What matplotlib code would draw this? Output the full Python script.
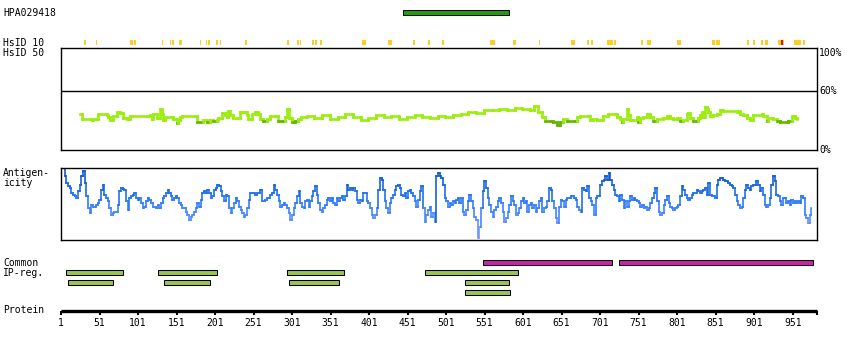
import numpy as np
import matplotlib
matplotlib.use("Agg")
import matplotlib.pyplot as plt
from matplotlib.collections import LineCollection
from matplotlib.colors import LinearSegmentedColormap, Normalize

# ---------------------------------------------------------------- data
protein_length = 982
ruler_ticks = [1, 51, 101, 151, 201, 251, 301, 351, 401, 451, 501, 551,
               601, 651, 701, 751, 801, 851, 901, 951]

antigen_name = "HPA029418"
antigen_span = (445, 583)

# HsID 10 hits (residue start, residue end)
hsid10_spans = [(16, 17), (31, 33), (46, 48), (91, 94), (96, 99), (132, 133),
                (142, 144), (145, 148), (154, 158), (181, 183), (189, 191),
                (192, 194), (202, 205), (207, 209), (240, 242), (251, 252),
                (295, 297), (308, 310), (311, 312), (327, 329), (331, 334),
                (337, 340), (392, 397), (426, 431), (458, 460), (477, 480),
                (496, 498), (558, 564), (588, 592), (622, 623), (663, 668),
                (684, 686), (689, 692), (710, 718), (719, 721), (754, 757),
                (762, 767), (801, 806), (846, 850), (852, 857), (892, 894),
                (899, 902), (910, 912), (915, 919), (932, 936), (938, 940),
                (953, 962), (964, 967)]
hsid10_high = [(936, 938)]

# HsID 50 identity profile (residue, % identity)
hsid50_residue = [25.7, 27.8, 40.8, 41.7, 43.0, 47.3, 49.5, 60.3, 62.5, 64.6,
                  69.0, 73.3, 77.6, 81.9, 86.3, 90.6, 114.4, 116.6, 118.7, 120.9,
                  125.2, 129.5, 131.7, 133.9, 136.0, 144.7, 146.9, 151.2, 153.4, 155.5,
                  157.7, 175.0, 177.2, 183.6, 185.8, 190.1, 194.5, 198.8, 203.1, 205.3,
                  209.6, 214.0, 216.1, 218.3, 220.4, 224.8, 229.1, 233.4, 237.7, 242.1,
                  244.2, 248.6, 252.9, 257.2, 259.4, 263.7, 268.0, 272.4, 278.9, 283.2,
                  287.5, 291.8, 294.9, 297.5, 300.5, 304.8, 309.2,
                  312, 320, 330, 340, 350, 360, 370, 380, 390, 400,
                  410, 420, 430, 440, 450, 460, 470, 480, 490, 500,
                  510, 520, 530, 540, 550, 560, 570, 580, 590, 600,
                  610, 615, 620, 625, 630,
                  635.9, 640.2, 644.6, 648.9, 653.2, 657.5, 668.4, 670.5, 674.9, 685.7,
                  687.8, 692.2, 696.5, 700.8, 705.2, 711.6, 720.3, 722.5, 726.8, 729.0,
                  731.1, 735.4, 737.6, 739.8, 744.1, 748.4, 750.6, 752.8, 757.1, 761.4,
                  765.7, 770.1, 774.4, 783.1, 787.4, 791.7, 796.0, 800.4, 804.7, 809.0,
                  813.3, 815.5, 817.7, 822.0, 826.3, 828.5, 830.7, 832.8, 835.0, 837.2,
                  839.3, 841.5, 843.6, 848.0, 852.3, 856.6, 861.0, 878.3, 880.4, 882.6,
                  886.9, 891.3, 895.6, 899.9, 910.7, 912.9, 917.2, 919.4, 923.7, 925.9,
                  930.2, 934.5, 945.4, 949.7, 954.0, 956.2]
hsid50_identity = [36, 31.7, 31.7, 30, 31.7, 31.7, 36, 35, 33.3, 30,
                   34, 38.3, 37.3, 32.7, 31.7, 34, 34, 35, 31.7, 36,
                   32.7, 41.7, 36, 30, 33.3, 33.3, 31.7, 27.3, 30, 33.3,
                   34, 34, 28.3, 28.3, 30, 28.3, 30, 29, 30.7, 32.7,
                   37.3, 35, 33.3, 39.3, 35, 32.7, 32.7, 38.3, 38.3, 35,
                   31.7, 36.7, 38.3, 36, 31.7, 29, 31.7, 34, 34, 29,
                   29, 33.3, 41.7, 32.7, 28.3, 29, 31.7,
                   33, 34, 32, 35, 31, 33, 36, 33, 30, 32,
                   35, 33, 34, 31, 33, 35, 33, 32, 34, 33,
                   35, 36, 38, 37, 40, 40, 41, 40, 42, 41,
                   40, 45, 38, 33, 29,
                   29, 28.3, 25, 28.3, 31.7, 29, 29, 33.3, 34, 34,
                   30, 31.7, 30, 30, 34, 36.7, 36.7, 33.3, 31.7, 28.3,
                   31.7, 41.7, 35, 30, 30.7, 33.3, 28.3, 32.7, 33.3, 36,
                   33.3, 29, 31.7, 32.7, 34, 32.7, 31.7, 32.7, 29, 30.7,
                   36, 37.3, 32.7, 29, 29, 32.7, 35, 38.3, 33.3, 43.3,
                   41.7, 38.3, 34, 35, 36, 40, 39.3, 38.3, 39.3, 36,
                   35, 32.7, 30.7, 35, 36.7, 34, 29, 32.7, 32.7, 31.7,
                   29, 28.3, 29, 34, 32.7, 31.7]

# Antigenicity profile, sampled every ~2.16 residues from residue 3.6 to 975
antigenicity_first, antigenicity_last = 3.6, 975.0
antigenicity = [
    215, 190, 170, 160, 155, 140, 135, 130, 125, 145, 165, 190, 205, 170, 130, 95,
    80, 105, 100, 100, 105, 110, 120, 150, 165, 135, 125, 115, 95, 75, 80, 85,
    85, 105, 145, 155, 153, 150, 115, 90, 125, 130, 135, 140, 125, 120, 125, 110,
    95, 100, 115, 125, 120, 110, 100, 100, 95, 105, 95, 110, 125, 130, 140, 150,
    140, 130, 120, 125, 130, 125, 110, 105, 95, 95, 85, 75, 60, 70, 75, 85,
    95, 110, 100, 120, 140, 145, 140, 150, 140, 125, 130, 150, 155, 165, 160, 145,
    130, 115, 135, 130, 95, 80, 95, 110, 125, 115, 100, 90, 80, 70, 75, 95,
    120, 140, 140, 140, 135, 140, 140, 150, 115, 115, 120, 125, 125, 135, 140, 165,
    150, 135, 115, 100, 105, 110, 105, 95, 80, 60, 75, 95, 110, 130, 145, 110,
    100, 95, 115, 120, 100, 115,
    130, 145, 160, 135, 110, 90, 85, 95, 105, 120, 125, 115, 125, 110, 105, 125,
    115, 125, 130, 120, 130, 165, 150, 155, 150, 155, 145, 120, 110, 120, 115, 140,
    140, 115, 110, 95, 75, 65, 75, 95, 150, 185, 180, 150, 115, 95, 80, 110,
    125, 135, 150, 160, 165, 155, 135, 130, 140, 125, 145, 150, 140, 130, 115, 100,
    120, 145, 160, 95, 55, 75, 90, 100, 70, 80, 55, 190, 200, 190, 185, 165,
    125, 115, 100, 110, 105, 115, 110, 120, 125, 110, 125, 85, 75, 90, 115, 135,
    115, 95, 70, 60, 5, 40, 95, 145, 175, 155, 125, 105, 85, 70, 90, 100,
    115, 125, 110, 85, 55, 65, 85, 105, 130, 115, 105, 75, 80, 95, 115, 125,
    110, 115, 85, 105, 110, 95, 105, 85, 95, 115, 125, 85, 95, 100, 115, 155,
    150, 115, 95, 65, 50, 100, 120, 115,
    100, 120, 125, 125, 130, 130, 125, 120, 100, 90, 85, 155, 150, 145, 160, 125,
    115, 105, 75, 125, 130, 130, 165, 175, 180, 190, 180, 200, 180, 165, 150, 135,
    130, 115, 135, 120, 95, 115, 100, 115, 130, 120, 125, 120, 115, 110, 100, 105,
    95, 100, 90, 95, 110, 125, 140, 155, 115, 85, 75, 80, 105, 120, 130, 110,
    100, 95, 90, 95, 100, 105, 130, 160, 150, 135, 125, 120, 125, 135, 140, 140,
    150, 145, 140, 145, 150, 155, 135, 170, 135, 130, 130, 125, 165, 180, 185, 185,
    180, 175, 175, 170, 165, 160, 155, 135, 115, 105, 95, 100, 125, 150, 165, 155,
    150, 160, 165, 165, 175, 165, 145, 155, 135, 105, 100, 105, 125, 165, 190, 175,
    135, 130, 115, 105, 125, 125, 110, 115, 105, 120, 110, 115, 110, 115, 110, 130,
    125, 75, 65, 50, 75, 95]

# Common IP regions (residue start, residue end) per row
ip_rows = [
    [(549, 717), (726, 978)],
    [(7, 81), (127, 203), (295, 369), (473, 595)],
    [(10, 68), (135, 195), (297, 362), (525, 583)],
    [(526, 584)],
]
ip_row_colors = ["#cc22aa", "#99c455", "#99c455", "#99c455"]

# ---------------------------------------------------------------- layout
W, H = 850, 350
X0_PX = 61.0
PX_PER_RES = 0.7702
X1_PX = X0_PX + (protein_length - 1) * PX_PER_RES

FONT = {"family": "DejaVu Sans Mono", "size": 7}

fig = plt.figure(figsize=(W / 100, H / 100), dpi=100)
fig.patch.set_facecolor("white")


def track_axes(top, bottom):
    ax = fig.add_axes([X0_PX / W, 1 - bottom / H, (X1_PX - X0_PX) / W, (bottom - top) / H])
    ax.set_xlim(1, protein_length)
    ax.set_xticks([])
    ax.set_yticks([])
    ax.patch.set_alpha(0)
    return ax


def hide_spines(ax):
    for s in ax.spines.values():
        s.set_visible(False)


def label(x_px, y_px, text, **kw):
    fig.text(x_px / W, 1 - y_px / H, text, va="center", ha=kw.pop("ha", "left"),
             fontdict=FONT, color="black", **kw)


def step_segments(x, y):
    """Horizontal-then-vertical segments of a step trace, with the level each belongs to."""
    segs, levels = [], []
    for i in range(len(x) - 1):
        segs.append([(x[i], y[i]), (x[i + 1], y[i])])
        levels.append(y[i])
        segs.append([(x[i + 1], y[i]), (x[i + 1], y[i + 1])])
        levels.append(max(y[i], y[i + 1]))
    return segs, np.asarray(levels)


edge_lw = 0.75

# antigen bar
ax_ab = track_axes(7.5, 17.5)
hide_spines(ax_ab)
ax_ab.set_ylim(-0.5, 0.5)
ax_ab.barh(0, antigen_span[1] - antigen_span[0], left=antigen_span[0], height=0.44,
           color="#1d9e0c", edgecolor="black", linewidth=edge_lw)
label(3, 13, antigen_name)

# HsID 10 track
ax_h10 = track_axes(37.5, 47.5)
hide_spines(ax_h10)
ax_h10.set_ylim(-0.5, 0.5)
for s, e in hsid10_spans:
    ax_h10.barh(0, max(e - s, 1.0), left=s, height=0.52, color="#ffcc22", linewidth=0)
for s, e in hsid10_high:
    ax_h10.barh(0, max(e - s, 1.0), left=s, height=0.52, color="#dd1100", linewidth=0)
label(3, 42.5, "HsID 10")
label(3, 52.5, "HsID 50")

# HsID 50 panel
ax_h50 = track_axes(48, 150)
ax_h50.set_ylim(0, 103.2)
for s in ax_h50.spines.values():
    s.set_linewidth(1.0)
ax_h50.axhline(60, color="black", linewidth=1.0)
h_segs, h_lev = step_segments(np.asarray(hsid50_residue), np.asarray(hsid50_identity))
light, dark = "#9bee0e", "#62b800"
h_cols = [dark if v < 30 else light for v in h_lev]
ax_h50.add_collection(LineCollection(h_segs, colors=h_cols, linewidths=1.9,
                                     capstyle="projecting"))
label(819, 52.5, "100%")
label(819, 90.7, "60%")
label(819, 150, "0%")

# Antigenicity panel
ax_ag = track_axes(168, 240)
ax_ag.set_ylim(0, 215)
for s in ax_ag.spines.values():
    s.set_linewidth(1.0)
ag = np.asarray(antigenicity, dtype=float)
ag_res = np.linspace(antigenicity_first, antigenicity_last, len(ag))
a_segs, a_lev = step_segments(ag_res, ag)
cmap = LinearSegmentedColormap.from_list(
    "antigen", ["#b0a8ff", "#6d90ff", "#4585ff", "#2274f4", "#1262dc", "#0a50c2"])
ax_ag.add_collection(LineCollection(a_segs, colors=cmap(Normalize(0, 215)(a_lev)),
                                    linewidths=1.15, capstyle="projecting"))
label(3, 173, "Antigen-")
label(3, 183.5, "icity")

# Common IP regions
ax_ip = track_axes(257.5, 297.5)
hide_spines(ax_ip)
ax_ip.set_ylim(3.5, -0.5)
for row, (spans, col) in enumerate(zip(ip_rows, ip_row_colors)):
    for s, e in spans:
        ax_ip.barh(row, e - s, left=s, height=0.44, color=col,
                   edgecolor="black", linewidth=edge_lw)
label(3, 263, "Common")
label(3, 273, "IP-reg.")

# Protein ruler
ax_pr = track_axes(309.0, 310.5)
for name in ("top", "left", "right"):
    ax_pr.spines[name].set_visible(False)
ax_pr.spines["bottom"].set_linewidth(2.4)
ax_pr.spines["bottom"].set_capstyle("butt")
ax_pr.set_xticks(ruler_ticks + [protein_length])
ax_pr.set_xticklabels([str(t) for t in ruler_ticks] + [""], fontdict=FONT)
ax_pr.tick_params(axis="x", direction="out", length=3.2, width=1.5, pad=2.5,
                  color="black")
label(3, 310, "Protein")

fig.savefig("out.png", dpi=100, facecolor="white")
